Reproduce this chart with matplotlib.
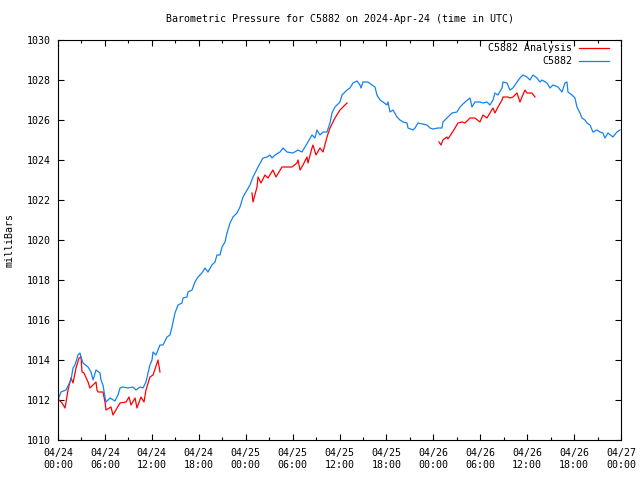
import pandas as pd
import matplotlib
matplotlib.use('Agg')
import matplotlib.pyplot as plt
import matplotlib.dates as mdates

start = pd.Timestamp('2024-04-24 00:00')

# Station observations (hours after 04/24 00:00 UTC, mb)
obs_hours = [
    0.00, 0.38, 1.02, 1.66, 1.92, 2.17, 2.56, 2.81, 2.94, 3.20, 3.84, 4.22, 4.48, 4.86, 5.37, 5.50,
    5.75, 6.01, 6.14, 6.65, 7.29, 7.67, 7.93, 8.31, 8.95, 9.59, 9.97, 10.49, 10.87, 11.25, 11.51, 11.76,
    12.02, 12.15, 12.53, 13.04, 13.43, 13.94, 14.32, 14.58, 14.96, 15.35, 15.86, 15.98, 16.50, 16.62,
    17.14, 17.52, 17.90, 18.41, 18.80, 19.18, 19.69, 20.08, 20.33, 20.72, 20.97, 21.36, 21.61, 22.00,
    22.38, 22.89, 23.27, 23.66, 24.17, 24.55,
    24.94, 25.58, 26.21, 26.73, 27.11, 27.37, 27.75, 28.39, 28.77, 29.28, 30.05, 30.69, 31.20, 31.59,
    31.97, 32.48, 32.86, 33.12, 33.50, 33.89, 34.40, 34.78, 35.04, 35.42, 36.06, 36.32, 36.96, 37.34,
    37.72, 38.24, 38.62,
    38.75, 39.00, 39.64, 40.15, 40.54, 40.79, 41.18, 41.56, 42.07, 42.20, 42.46, 42.84, 43.35, 43.73,
    44.12, 44.63, 44.76, 45.40, 45.65, 46.04, 47.19, 47.57, 47.95, 48.59, 49.10, 49.23, 49.74, 50.38,
    51.02, 51.41,
    52.05, 52.69, 52.94, 53.32, 53.96, 54.35, 54.86, 55.24, 55.63, 55.88, 56.27, 56.78, 56.91, 57.42,
    57.80, 58.18, 58.70, 59.08, 59.46, 59.97, 60.36, 60.74, 61.25, 61.64, 61.89, 62.53, 62.92, 63.30,
    63.94, 64.45, 64.83, 65.09, 65.22, 65.73, 66.11, 66.37, 66.75, 67.01, 67.39, 67.65, 68.03, 68.41,
    68.93, 69.31, 69.69, 69.95, 70.33, 70.97, 71.48, 71.87,
]
obs_mb = [
    1012.00, 1012.40, 1012.50, 1013.00, 1013.60, 1013.75, 1014.25, 1014.35, 1014.15, 1013.85, 1013.65,
    1013.40, 1013.00, 1013.50, 1013.35, 1013.00, 1012.75, 1012.15, 1011.90, 1012.10, 1011.95, 1012.25,
    1012.60, 1012.65, 1012.60, 1012.65, 1012.50, 1012.65, 1012.60, 1012.90, 1013.35, 1013.75,
    1014.00, 1014.40, 1014.25, 1014.75, 1014.75, 1015.15, 1015.25, 1015.65, 1016.35, 1016.75, 1016.85,
    1017.10, 1017.15, 1017.40, 1017.50, 1017.90, 1018.15, 1018.35, 1018.60, 1018.40, 1018.75, 1018.90,
    1019.25, 1019.25, 1019.65, 1019.90, 1020.35, 1020.85, 1021.15, 1021.35, 1021.65, 1022.15, 1022.50,
    1022.75,
    1023.15, 1023.65, 1024.10, 1024.15, 1024.25, 1024.10, 1024.25, 1024.40, 1024.60, 1024.40, 1024.35,
    1024.50, 1024.40, 1024.65, 1024.90, 1025.25, 1025.10, 1025.50, 1025.25, 1025.40, 1025.40, 1025.85,
    1026.35, 1026.65, 1026.90, 1027.25, 1027.50, 1027.60, 1027.85, 1027.95, 1027.75,
    1027.60, 1027.90, 1027.90, 1027.75, 1027.65, 1027.25, 1027.00, 1026.90, 1026.75, 1026.90, 1026.40,
    1026.50, 1026.15, 1026.00, 1025.90, 1025.85, 1025.60, 1025.50, 1025.60, 1025.85, 1025.75, 1025.60,
    1025.55, 1025.60, 1025.60, 1025.90, 1026.10, 1026.35, 1026.40, 1026.65,
    1026.90, 1027.10, 1026.65, 1026.90, 1026.90, 1026.85, 1026.90, 1026.75, 1027.00, 1027.35, 1027.25,
    1027.60, 1027.90, 1027.85, 1027.50, 1027.60, 1027.90, 1028.10, 1028.25, 1028.15, 1028.00, 1028.25,
    1028.10, 1027.90, 1028.00, 1027.85, 1027.60, 1027.75, 1027.65, 1027.40, 1027.85, 1027.90, 1027.40,
    1027.25, 1027.10, 1026.65, 1026.35, 1026.10, 1026.00, 1025.85, 1025.75, 1025.40, 1025.50, 1025.40,
    1025.35, 1025.10, 1025.35, 1025.15, 1025.40, 1025.50,
]

# Analysis values, three separate runs
ana1_hours = [0.13, 0.51, 0.90, 1.28, 1.66, 1.92, 2.30, 2.69, 2.94, 3.07, 3.32, 3.84, 4.09, 4.48, 4.86,
              4.99, 5.12, 5.75, 6.01, 6.14, 6.78, 7.03, 7.93, 8.70, 9.08, 9.34, 9.85, 10.10, 10.61,
              11.00, 11.25, 11.76, 12.15, 12.79, 13.04]
ana1_mb = [1012.00, 1011.85, 1011.60, 1012.50, 1013.10, 1012.85, 1013.60, 1014.10, 1014.15, 1013.40,
           1013.35, 1012.90, 1012.60, 1012.75, 1012.90, 1012.50, 1012.40, 1012.40, 1011.90, 1011.50,
           1011.65, 1011.25, 1011.85, 1011.90, 1012.15, 1011.75, 1012.10, 1011.60, 1012.15, 1011.90,
           1012.50, 1013.15, 1013.25, 1014.00, 1013.40]

ana2_hours = [24.81, 24.94, 25.45, 25.58, 25.96, 26.47, 26.85, 27.49, 27.88, 28.64, 29.41, 29.92, 30.56,
              30.69, 30.95, 31.33, 31.84, 31.97, 32.48, 32.61, 32.99, 33.50, 33.89, 34.40, 34.78, 35.42,
              36.06, 36.96]
ana2_mb = [1022.35, 1021.90, 1022.65, 1023.15, 1022.85, 1023.25, 1023.10, 1023.50, 1023.15, 1023.65,
           1023.65, 1023.65, 1023.85, 1024.00, 1023.50, 1023.75, 1024.15, 1023.85, 1024.60, 1024.75,
           1024.25, 1024.60, 1024.40, 1025.15, 1025.60, 1026.10, 1026.50, 1026.85]

ana3_hours = [48.72, 48.98, 49.23, 49.74, 49.87, 50.38, 50.77, 51.15, 51.66, 52.05, 52.69, 53.32, 53.96,
              54.35, 54.86, 55.24, 55.63, 55.88, 56.27, 56.78, 56.91, 57.54, 57.80, 58.18, 58.70, 59.08,
              59.34, 59.72, 59.97, 60.61, 61.00]
ana3_mb = [1024.90, 1024.75, 1025.00, 1025.15, 1025.05, 1025.35, 1025.60, 1025.85, 1025.90, 1025.85,
           1026.10, 1026.10, 1025.90, 1026.25, 1026.10, 1026.35, 1026.60, 1026.35, 1026.65, 1027.00,
           1027.15, 1027.15, 1027.10, 1027.15, 1027.35, 1026.90, 1027.15, 1027.50, 1027.35, 1027.35,
           1027.15]


def to_time(hours):
    return start + pd.to_timedelta(hours, unit='h')


plt.rcParams['font.family'] = 'DejaVu Sans Mono'
plt.rcParams['font.size'] = 7.2

fig = plt.figure(figsize=(6.4, 4.8), dpi=100)
ax = fig.add_axes([58 / 640, 40 / 480, 563 / 640, 400 / 480])

red = '#ff0000'
blue = '#1482f0'
ax.plot(to_time(ana1_hours), ana1_mb, color=red, lw=0.9, label='C5882 Analysis')
ax.plot(to_time(ana2_hours), ana2_mb, color=red, lw=0.9)
ax.plot(to_time(ana3_hours), ana3_mb, color=red, lw=0.9)
ax.plot(to_time(obs_hours), obs_mb, color=blue, lw=0.9, label='C5882')

ax.set_xlim(start, start + pd.Timedelta(hours=72))
ax.set_ylim(1010, 1030)
ax.set_yticks(range(1010, 1031, 2))
ax.xaxis.set_major_locator(mdates.HourLocator(byhour=[0, 6, 12, 18]))
ax.xaxis.set_minor_locator(mdates.HourLocator(byhour=[3, 9, 15, 21]))
ax.xaxis.set_major_formatter(mdates.DateFormatter('%m/%d\n%H:%M'))

ax.tick_params(which='both', direction='in', top=True, right=True, width=0.8, labelsize=7.2)
ax.tick_params(which='major', length=4.5)
ax.tick_params(which='minor', length=2.5)
ax.tick_params(axis='x', pad=6)
ax.tick_params(axis='y', pad=5)
for s in ax.spines.values():
    s.set_linewidth(0.8)

ax.set_ylabel('milliBars', labelpad=9)
ax.set_title('Barometric Pressure for C5882 on 2024-Apr-24 (time in UTC)', pad=13, fontsize=7.2)

ax.legend(loc='upper right', bbox_to_anchor=(609 / 640, 1 - 43 / 480), bbox_transform=fig.transFigure,
          frameon=False, markerfirst=False, borderaxespad=0, borderpad=0,
          handlelength=3.0, handletextpad=0.7, labelspacing=0.35, fontsize=7.2)

fig.savefig('out.png', dpi=100)
